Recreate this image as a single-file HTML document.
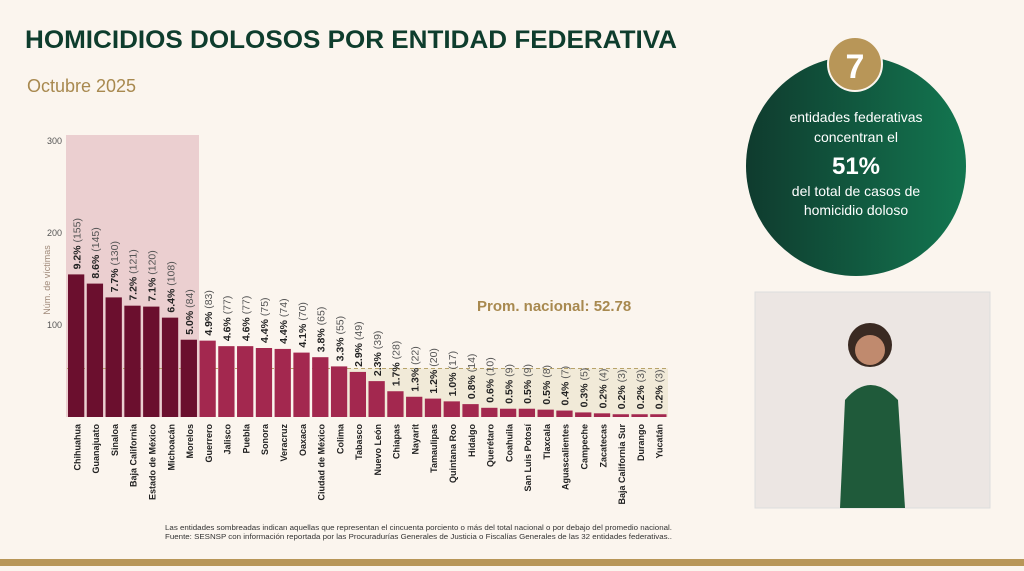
<!DOCTYPE html>
<html><head><meta charset="utf-8"><style>
body{margin:0;width:1024px;height:566px;overflow:hidden;background:#fbf5ee;font-family:"Liberation Sans",sans-serif;}
</style></head><body>
<svg id="s" width="1024" height="566" xmlns="http://www.w3.org/2000/svg">
<defs><linearGradient id="g" x1="0" x2="1" y1="0" y2="0"><stop offset="0" stop-color="#0f3b2e"/><stop offset="1" stop-color="#137650"/></linearGradient></defs>
<rect x="0" y="559" width="1024" height="7" fill="#b89658"/>
<text x="25" y="48" font-size="25" font-weight="bold" fill="#0e3d2d" textLength="652" lengthAdjust="spacingAndGlyphs">HOMICIDIOS DOLOSOS POR ENTIDAD FEDERATIVA</text>
<text x="27" y="92" font-size="18" fill="#a8894f">Octubre 2025</text>
<rect x="66" y="135" width="133" height="282" fill="#ebcfd0"/>
<g id="chart"></g>
<text x="477" y="311" font-size="15" font-weight="bold" fill="#a8894f">Prom. nacional: 52.78</text>
<text transform="translate(50,280) rotate(-90)" text-anchor="middle" font-size="9" fill="#a08a7a">Núm. de víctimas</text>
<text x="672" y="530" text-anchor="end" font-size="7" fill="#333" textLength="507" lengthAdjust="spacingAndGlyphs">Las entidades sombreadas indican aquellas que representan el cincuenta porciento o más del total nacional o por debajo del promedio nacional.</text>
<text x="672" y="539" text-anchor="end" font-size="7" fill="#333" textLength="507" lengthAdjust="spacingAndGlyphs">Fuente: SESNSP con información reportada por las Procuradurías Generales de Justicia o Fiscalías Generales de las 32 entidades federativas..</text>
<circle cx="856" cy="166" r="110" fill="url(#g)"/>
<circle cx="855" cy="64" r="27" fill="#b89658" stroke="#fbf5ee" stroke-width="2"/>
<text x="855" y="78" text-anchor="middle" font-size="34" font-weight="bold" fill="#fff">7</text>
<g fill="#fff" text-anchor="middle" font-size="14">
<text x="856" y="122">entidades federativas</text>
<text x="856" y="142">concentran el</text>
<text x="856" y="174" font-size="24" font-weight="bold">51%</text>
<text x="856" y="196">del total de casos de</text>
<text x="856" y="215">homicidio doloso</text>
</g>
<rect x="755" y="292" width="235" height="216" fill="#ece6e3" stroke="#ddd"/>
<path d="M840 508 L845 400 Q870 370 898 400 L905 508Z" fill="#1f5a3a"/>
<circle cx="870" cy="345" r="22" fill="#3a2a22"/><circle cx="870" cy="350" r="15" fill="#c08a6e"/>
</svg>
<script>
const categories=["Chihuahua","Guanajuato","Sinaloa","Baja California","Estado de México","Michoacán","Morelos","Guerrero","Jalisco","Puebla","Sonora","Veracruz","Oaxaca","Ciudad de México","Colima","Tabasco","Nuevo León","Chiapas","Nayarit","Tamaulipas","Quintana Roo","Hidalgo","Querétaro","Coahuila","San Luis Potosí","Tlaxcala","Aguascalientes","Campeche","Zacatecas","Baja California Sur","Durango","Yucatán"];
const values=[155,145,130,121,120,108,84,83,77,77,75,74,70,65,55,49,39,28,22,20,17,14,10,9,9,8,7,5,4,3,3,3];
const percents=["9.2%","8.6%","7.7%","7.2%","7.1%","6.4%","5.0%","4.9%","4.6%","4.6%","4.4%","4.4%","4.1%","3.8%","3.3%","2.9%","2.3%","1.7%","1.3%","1.2%","1.0%","0.8%","0.6%","0.5%","0.5%","0.5%","0.4%","0.3%","0.2%","0.2%","0.2%","0.2%"];
const yTicks=[100,200,300];
const average=52.78;
const NS="http://www.w3.org/2000/svg";
const g=document.getElementById("chart");
const x0=67,x1=668,y0=417,yTop=141,maxV=300;
const step=(x1-x0)/categories.length;
function y(v){return y0-(v/maxV)*(y0-yTop);}
function x(i){return x0+i*step;}
function mk(t,a){const e=document.createElementNS(NS,t);for(const k in a)e.setAttribute(k,a[k]);g.appendChild(e);return e;}
const band=mk("rect",{x:x(15)-1,y:y(average),width:x1-x(15)+1,height:y0-y(average),fill:"#f1ead8"});


const avg=mk("line",{x1:x0,x2:x1,y1:y(average),y2:y(average),stroke:"#b8a36a","stroke-dasharray":"4,3","stroke-width":1});


yTicks.forEach(t=>{const e=mk("text",{x:62,y:y(t)+3,"text-anchor":"end","font-size":9,fill:"#555"});e.textContent=t;

});
categories.forEach((c,i)=>{
const r=mk("rect",{x:x(i)+1,y:y(values[i]),width:step-2.5,height:y0-y(values[i]),fill:i<7?"#6b0f2e":"#a3284f"});


const cx=x(i)+step/2+4;
const l=mk("text",{transform:`translate(${cx},${y(values[i])-5}) rotate(-90)`,"font-size":10.5,fill:"#222"});
l.innerHTML=`<tspan font-weight="bold">${percents[i]}</tspan><tspan fill="#555"> (${values[i]})</tspan>`;


const t=mk("text",{transform:`translate(${cx},${y0+7}) rotate(-90)`,"text-anchor":"end","font-size":9,"font-weight":"bold",fill:"#222"});
t.textContent=c;


});
</script>
</body></html>
